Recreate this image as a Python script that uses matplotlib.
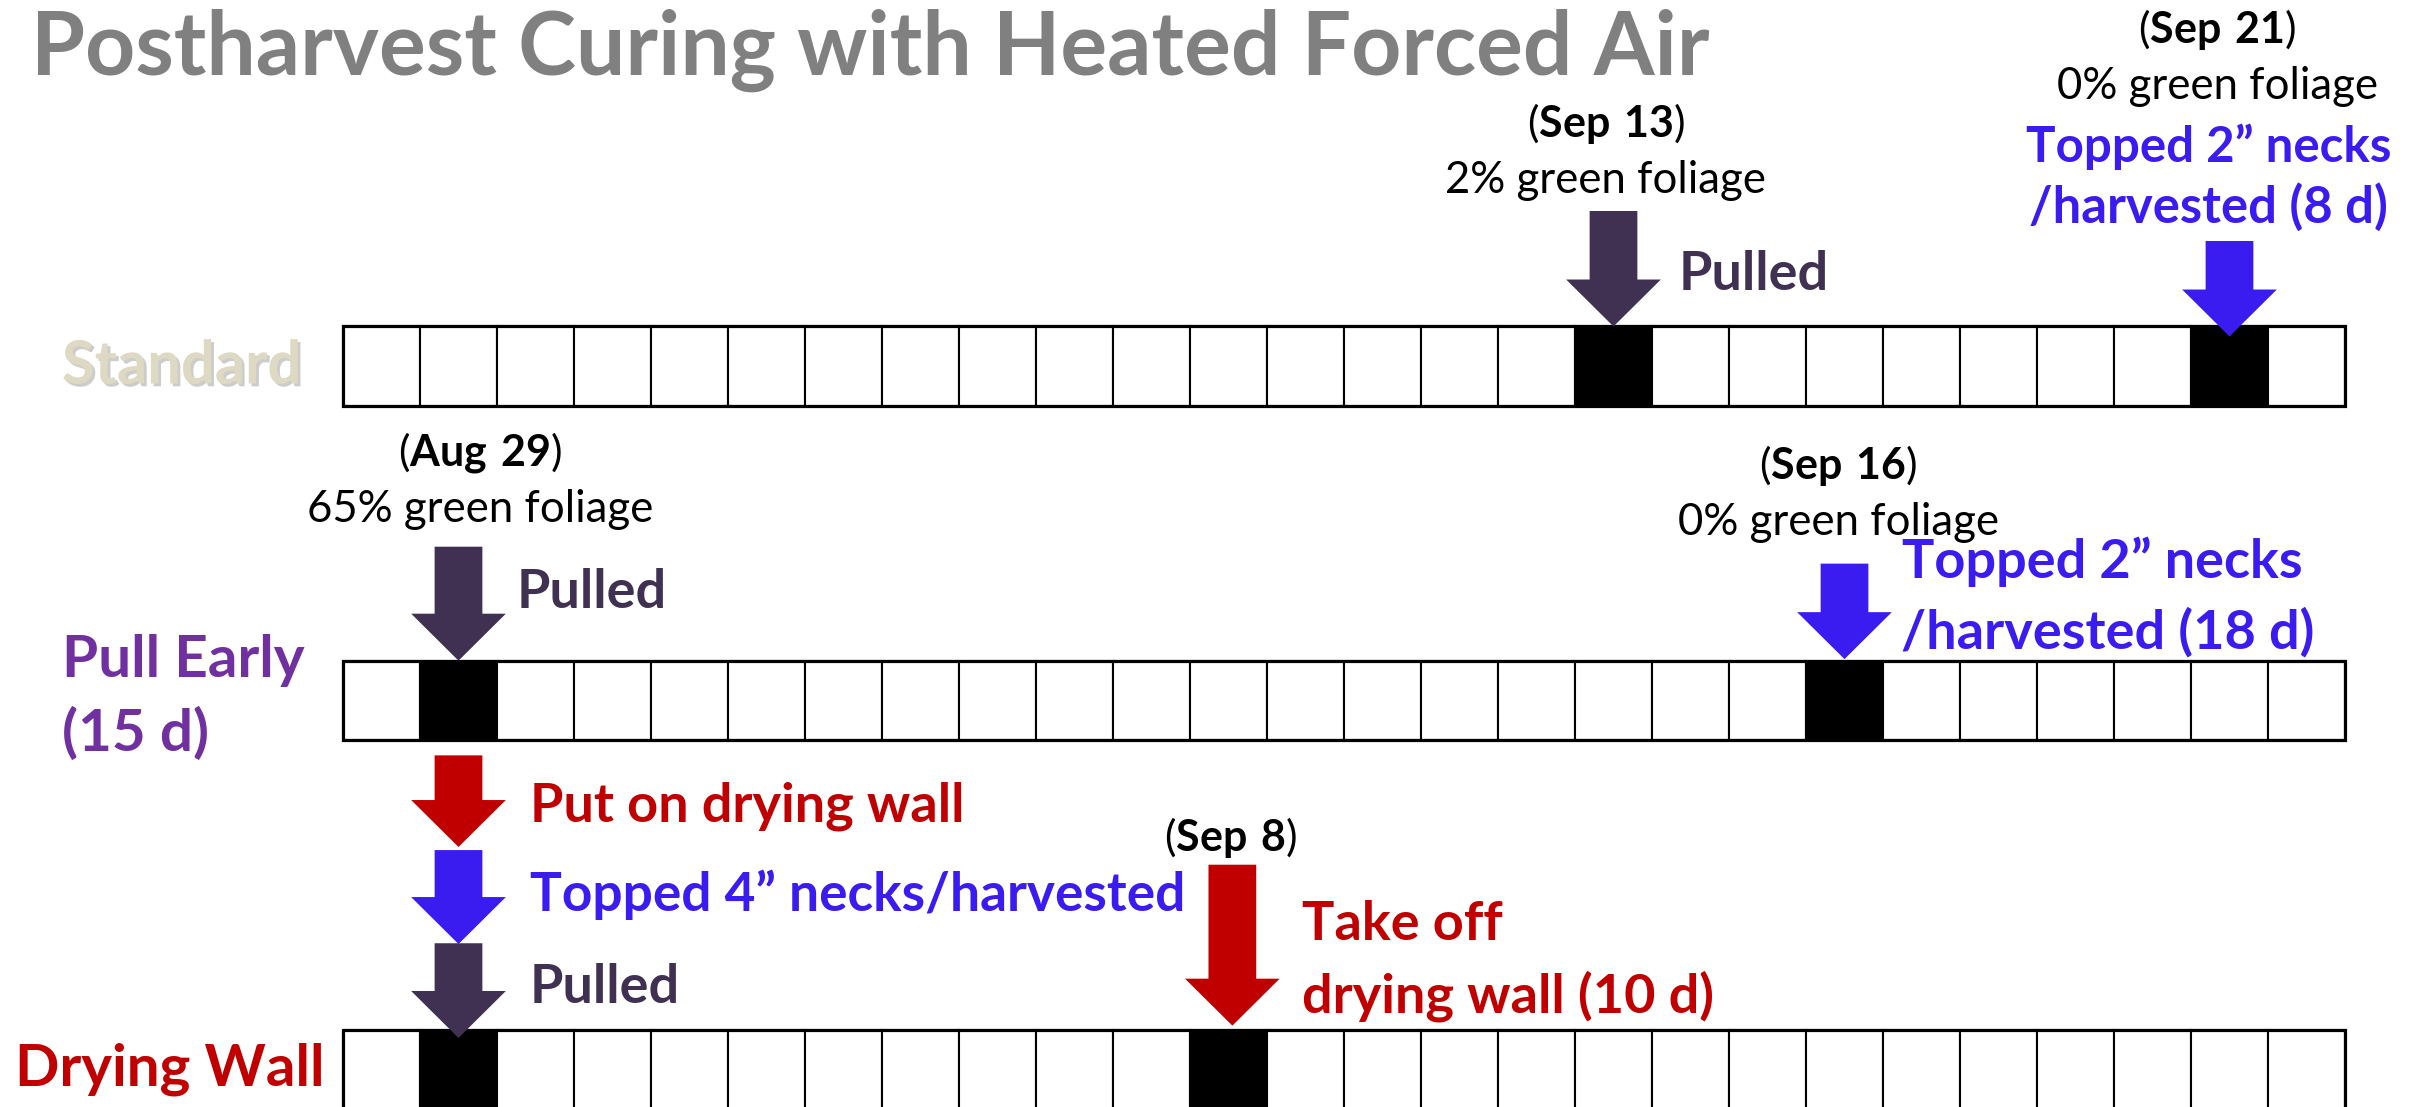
import matplotlib
matplotlib.use("Agg")
import matplotlib.pyplot as plt
import matplotlib.patheffects as pe
from matplotlib.patches import Rectangle, FancyArrow
import pandas as pd

plt.rcParams["font.family"] = ["Lato", "DejaVu Sans"]
plt.rcParams["mathtext.fontset"] = "custom"
plt.rcParams["mathtext.rm"] = "Lato"
plt.rcParams["mathtext.bf"] = "Lato:bold"

# one box per day on the timeline
days = pd.date_range("2023-08-28", "2023-09-22")
day_labels = [f"{d:%b} {d.day}" for d in days]

rows = ["Standard", "Pull Early", "Drying Wall"]
marked_days = {
    "Standard": ["Sep 13", "Sep 21"],
    "Pull Early": ["Aug 29", "Sep 16"],
    "Drying Wall": ["Aug 29", "Sep 8"],
}
green_foliage = {"Aug 29": "65%", "Sep 13": "2%", "Sep 16": "0%", "Sep 21": "0%"}

DARK = "#403152"
BLUE = "#3b1cf0"
RED = "#c00000"
PURPLE = "#7030a0"

W, H = 2422, 1107
PX = 77.0  # pixels per day box
fig = plt.figure(figsize=(W / 100, H / 100), dpi=100)
ax = fig.add_axes([0, 0, 1, 1])
ax.set_xlim(-343 / PX, (W - 343) / PX)
ax.set_ylim(H / PX, 0)
ax.axis("off")

row_top = {"Standard": 4.24, "Pull Early": 8.58, "Drying Wall": 13.38}
ROW_H = 1.03

for name in rows:
    top = row_top[name]
    for i, lab in enumerate(day_labels):
        fc = "black" if lab in marked_days[name] else "white"
        ax.add_patch(Rectangle((i, top), 1, ROW_H, facecolor=fc, edgecolor="black", lw=1.5))
    ax.add_patch(Rectangle((0, top), len(day_labels), ROW_H, fill=False, edgecolor="black", lw=2.3))


def col(label):
    return day_labels.index(label) + 0.5


def down_arrow(x, y0, y1, color):
    ax.add_patch(FancyArrow(x, y0, 0, y1 - y0, width=0.62, head_width=1.23, head_length=0.61,
                            length_includes_head=True, facecolor=color, edgecolor="none"))


def date_text(label, x, y):
    bold = label.replace(" ", r"\ ")
    ax.text(x, y, "($\\mathbf{" + bold + "}$)", ha="center", va="center", fontsize=31)


def date_note(label, x, y):
    date_text(label, x, y)
    ax.text(x, y + 0.74, f"{green_foliage[label]} green foliage", ha="center", va="center", fontsize=31.5)


def label(x, y, s, color, ha="left", size=39):
    ax.text(x, y, s, ha=ha, va="center", fontsize=size, fontweight="bold", color=color)


# title
fig.text(31 / W, 1 - 75 / H, "Postharvest Curing with Heated Forced Air", fontsize=63,
         fontweight="bold", color="#808080", va="baseline")

# row names
ax.text(-3.65, 4.76, "Standard", fontsize=43, fontweight="bold", color="#ddd9c3", va="center",
        path_effects=[pe.withSimplePatchShadow(offset=(2, -2), shadow_rgbFace="#9a9a9a", alpha=0.5)])
ax.text(-3.65, 8.58, "Pull Early", fontsize=42, fontweight="bold", color=PURPLE, va="center")
ax.text(-3.65, 9.53, "(15 d)", fontsize=42, fontweight="bold", color=PURPLE, va="center")
ax.text(-4.26, 13.88, "Drying Wall", fontsize=42, fontweight="bold", color=RED, va="center")

# Standard
x = col("Sep 13")
date_note("Sep 13", x - 0.1, 1.61)
down_arrow(x, 2.74, row_top["Standard"], DARK)
label(x + 0.85, 3.57, "Pulled", DARK)

x = col("Sep 21")
date_note("Sep 21", x - 0.16, 0.38)
label(x - 0.27, 1.90, "Topped 2\u201d necks", BLUE, ha="center", size=35.5)
label(x - 0.27, 2.69, "/harvested (8 d)", BLUE, ha="center", size=36.5)
down_arrow(x, 3.13, row_top["Standard"] + 0.13, BLUE)

# Pull Early
x = col("Aug 29")
date_note("Aug 29", x + 0.28, 5.88)
down_arrow(x, 7.10, row_top["Pull Early"], DARK)
label(x + 0.76, 7.69, "Pulled", DARK)

x = col("Sep 16")
date_note("Sep 16", x - 0.08, 6.04)
down_arrow(x, 7.32, row_top["Pull Early"] - 0.02, BLUE)
label(x + 0.75, 7.29, "Topped 2\u201d necks", BLUE)
label(x + 0.73, 8.21, "/harvested (18 d)", BLUE)

# Drying Wall
x = col("Aug 29")
down_arrow(x, 9.81, 11.0, RED)
label(x + 0.93, 10.47, "Put on drying wall", RED)
down_arrow(x, 11.04, 12.26, BLUE)
label(x + 0.93, 11.62, "Topped 4\u201d necks/harvested", BLUE, size=38.3)
down_arrow(x, 12.25, row_top["Drying Wall"] + 0.1, DARK)
label(x + 0.93, 12.83, "Pulled", DARK)

x = col("Sep 8")
date_text("Sep 8", x + 0.03, 10.88)
down_arrow(x + 0.05, 11.23, row_top["Drying Wall"] - 0.06, RED)
label(x + 0.95, 12.01, "Take off", RED)
label(x + 0.95, 12.94, "drying wall (10 d)", RED)

fig.savefig("out.png", dpi=100, facecolor="white")
